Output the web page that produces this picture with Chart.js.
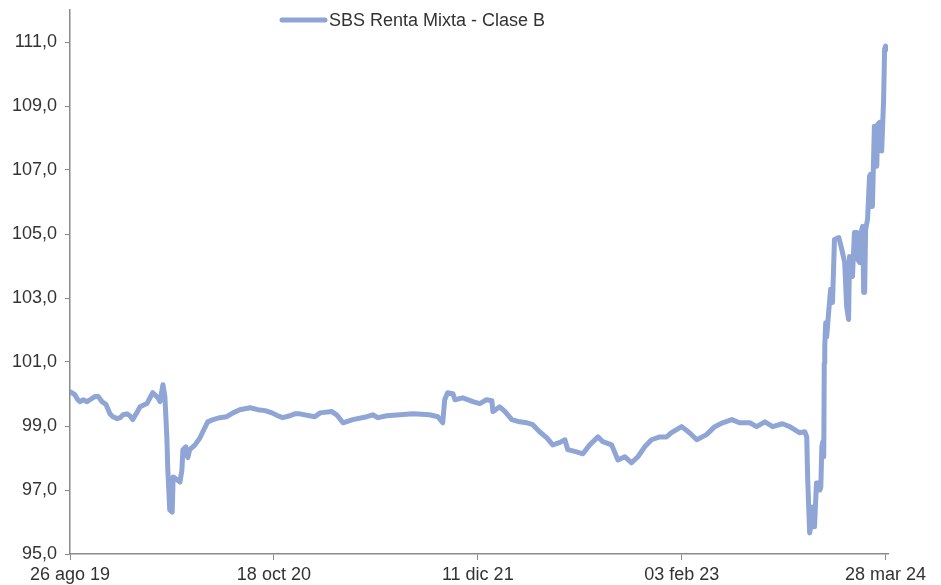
<!DOCTYPE html>
<html>
<head>
<meta charset="utf-8">
<script src="https://cdn.jsdelivr.net/npm/chart.js@4.4.1/dist/chart.umd.min.js"></script>
<style>
  html, body { margin: 0; padding: 0; background: #fff; }
  #wrap { width: 941px; height: 585px; }
</style>
</head>
<body>
<div id="wrap"><canvas id="chart-fund" width="941" height="585"></canvas></div>
<script>
// days since 26 ago 19
const dayOffsets = [
  0, 10, 16, 21, 27, 35, 41, 51, 58, 66, 74, 82, 88, 97, 103, 109, 117, 123, 129, 136,
  144, 158, 170, 181, 185, 191, 195, 199, 201, 205, 210, 212, 220, 226, 230, 232, 238, 242, 246, 257,
  267, 273, 283, 294, 308, 322, 335, 349, 370, 386, 401, 415, 427, 437, 452, 462, 472, 503, 514, 538,
  548, 561, 581, 610, 622, 633, 651, 678, 705, 739, 756, 766, 770, 776, 787, 791, 807, 828, 842, 856,
  867, 869, 883, 894, 908, 924, 939, 951, 965, 980, 992, 1006, 1017, 1023, 1041, 1054, 1068, 1085, 1095, 1113,
  1126, 1140, 1154, 1167, 1181, 1195, 1212, 1226, 1236, 1257, 1273, 1288, 1308, 1325, 1341, 1360, 1376, 1397, 1411, 1428,
  1444, 1464, 1479, 1499, 1510, 1514, 1516, 1520, 1524, 1526, 1528, 1530, 1534, 1538, 1541, 1543, 1545, 1547, 1549, 1550,
  1551, 1553, 1555, 1559, 1563, 1565, 1567, 1571, 1580, 1586, 1592, 1596, 1600, 1602, 1608, 1612, 1617, 1619, 1623, 1627,
  1629, 1631, 1633, 1635, 1639, 1643, 1645, 1647, 1649, 1653, 1658, 1660, 1664, 1666, 1668, 1672, 1674, 1676, 1679, 1681
];
const navValues = [
  100.07, 99.98, 99.82, 99.76, 99.82, 99.76, 99.82, 99.92, 99.92, 99.76, 99.67, 99.38, 99.29, 99.23, 99.26, 99.35, 99.38, 99.32, 99.20, 99.38,
  99.60, 99.70, 100.04, 99.88, 99.76, 100.29, 99.92, 98.66, 97.63, 96.38, 96.31, 97.41, 97.32, 97.25, 97.63, 98.26, 98.35, 98.01, 98.26, 98.41,
  98.63, 98.82, 99.13, 99.20, 99.26, 99.29, 99.41, 99.51, 99.57, 99.51, 99.48, 99.41, 99.32, 99.26, 99.32, 99.38, 99.38, 99.29, 99.41, 99.45,
  99.35, 99.10, 99.20, 99.29, 99.35, 99.26, 99.32, 99.35, 99.38, 99.35, 99.29, 99.10, 99.82, 100.04, 100.01, 99.82, 99.88, 99.76, 99.70, 99.82,
  99.79, 99.45, 99.60, 99.45, 99.20, 99.13, 99.10, 99.04, 98.82, 98.63, 98.41, 98.48, 98.57, 98.26, 98.19, 98.13, 98.41, 98.66, 98.51, 98.41,
  97.94, 98.04, 97.85, 98.04, 98.35, 98.57, 98.66, 98.66, 98.79, 98.98, 98.79, 98.57, 98.73, 98.98, 99.10, 99.20, 99.10, 99.10, 98.98, 99.13,
  98.98, 99.07, 98.98, 98.79, 98.82, 98.66, 97.32, 95.66, 96.06, 96.47, 95.85, 95.85, 97.22, 97.22, 97.00, 97.10, 98.35, 98.51, 98.04, 100.98,
  101.48, 102.23, 101.79, 102.55, 103.27, 103.27, 102.86, 104.83, 104.89, 104.52, 104.11, 102.73, 102.33, 104.30, 103.67, 105.05, 105.05, 104.20, 104.11, 105.14,
  105.24, 103.17, 103.17, 105.14, 105.46, 106.80, 106.86, 105.86, 105.86, 108.37, 107.12, 108.43, 108.49, 108.49, 107.59, 109.21, 110.78, 110.87, 110.81, 110.78
];

const xTickDays = [0, 419, 838, 1257, 1676];
const xTickLabels = [`26 ago 19`, `18 oct 20`, `11 dic 21`, `03 feb 23`, `28 mar 24`];
const yTicks = [95, 97, 99, 101, 103, 105, 107, 109, 111];
const seriesName = `SBS Renta Mixta - Clase B`;

const lineColor = `#8fa5d6`;
const axisColor = `#8a8a8a`;
const textColor = `#333333`;
const font = { family: `"Liberation Sans", Arial, sans-serif`, size: 18 };

// legend drawn inside the plot area, like the original
const legendInside = {
  id: `legendInside`,
  afterDraw(chart) {
    const ctx = chart.ctx;
    ctx.save();
    ctx.strokeStyle = lineColor;
    ctx.lineWidth = 5;
    ctx.lineCap = `round`;
    ctx.beginPath();
    ctx.moveTo(282, 20);
    ctx.lineTo(325, 20);
    ctx.stroke();
    ctx.fillStyle = textColor;
    ctx.font = `18px "Liberation Sans", Arial, sans-serif`;
    ctx.textBaseline = `middle`;
    ctx.fillText(chart.data.datasets[0].label, 329, 21);
    ctx.restore();
  }
};

const points = dayOffsets.map((d, i) => ({ x: d, y: navValues[i] }));

const chartFund = new Chart(document.getElementById(`chart-fund`), {
  type: `line`,
  data: {
    datasets: [{
      label: seriesName,
      data: points,
      borderColor: lineColor,
      borderWidth: 5,
      borderCapStyle: `round`,
      borderJoinStyle: `round`,
      pointRadius: 0,
      tension: 0,
      fill: false,
    }]
  },
  options: {
    responsive: false,
    animation: false,
    layout: { padding: { top: 10, right: 53, left: 0, bottom: 0 } },
    plugins: {
      legend: { display: false },
      tooltip: { enabled: false },
    },
    scales: {
      x: {
        type: `linear`,
        min: 0,
        max: 1681,
        afterBuildTicks: (scale) => {
          scale.ticks = xTickDays.map(v => ({ value: v }));
        },
        afterFit: (scale) => { scale.height = 31; },
        ticks: {
          autoSkip: false,
          maxRotation: 0,
          padding: 4,
          color: textColor,
          font: font,
          callback: (value) => xTickLabels[xTickDays.indexOf(value)],
        },
        grid: { drawOnChartArea: false, drawTicks: true, tickLength: 6, color: axisColor },
        border: { display: true, color: axisColor, width: 1.5 },
      },
      y: {
        min: 95,
        max: 112,
        afterBuildTicks: (scale) => {
          scale.ticks = yTicks.map(v => ({ value: v }));
        },
        afterFit: (scale) => {
          scale.width = 70;
          scale.paddingTop = 0;
          scale.paddingBottom = 0;
        },
        ticks: {
          padding: 8,
          color: textColor,
          font: font,
          callback: (value) => value.toFixed(1).replace(`.`, `,`),
        },
        grid: { drawOnChartArea: false, drawTicks: true, tickLength: 5, color: axisColor },
        border: { display: true, color: axisColor, width: 1.5 },
      }
    }
  },
  plugins: [legendInside]
});
</script>
</body>
</html>
